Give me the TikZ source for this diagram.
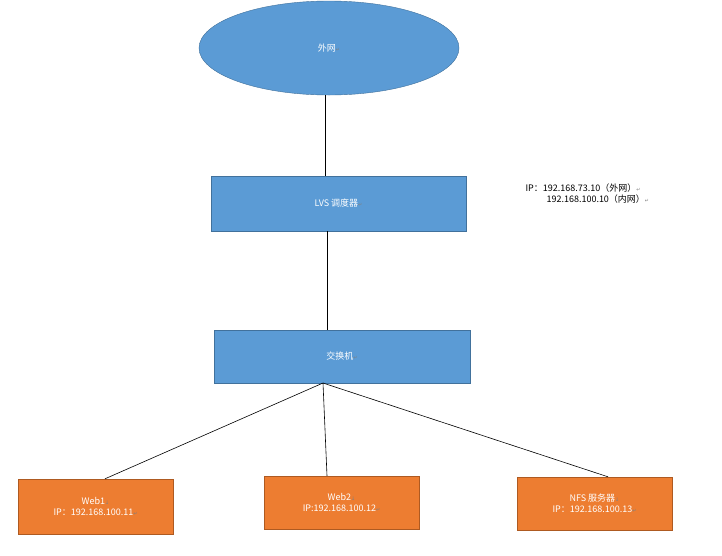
\documentclass[tikz,border=0pt]{standalone}
\usepackage{fontspec}
\usetikzlibrary{shapes.geometric}
\setmainfont{Noto Sans CJK SC}
\newfontfamily\symfont{DejaVu Sans}
\definecolor{netblue}{HTML}{5B9BD5}
\definecolor{netblueline}{HTML}{41719C}
\definecolor{hostorange}{HTML}{ED7D31}
\definecolor{hostorangeline}{HTML}{AE5A21}
\newcommand{\pmark}{{\symfont\color{gray}\tiny ↵}}
\newcommand{\lmark}{{\symfont\color{gray}\tiny ↓}}
\tikzset{
  bluebox/.style={draw=netblueline, fill=netblue, text=white, font=\small, minimum width=255pt, minimum height=55pt},
  hostbox/.style={draw=hostorangeline, fill=hostorange, text=white, font=\small, align=center, minimum width=155pt, minimum height=54pt},
  link/.style={draw=black, line width=0.6pt}
}
\begin{document}
\begin{tikzpicture}[x=1pt,y=-1pt]
  \useasboundingbox (0,0) rectangle (722,555);

  \node [draw=netblueline, fill=netblue, text=white, font=\small, ellipse, minimum width=260pt, minimum height=94pt] (wan) at (329,48) {外网\pmark};
  \node [bluebox] (lvs) at (338.5,203.5) {LVS 调度器\pmark};
  \node [bluebox, minimum width=256pt, minimum height=53pt] (switch) at (342,356.5) {交换机\pmark};

  \node [hostbox, minimum height=55pt] (web1) at (95.5,506.5) {Web1\lmark\\ IP：192.168.100.11\pmark};
  \node [hostbox, minimum height=53pt] (web2) at (341.5,502.5) {Web2\lmark\\ IP:192.168.100.12\pmark};
  \node [hostbox, minimum height=53pt] (nfs) at (594.5,503.5) {NFS 服务器\lmark\\ IP：192.168.100.13\pmark};

  \node [font=\small, align=left, anchor=north west] (lvsip) at (522,180) {IP：192.168.73.10（外网）\pmark\\ \hspace{21pt}192.168.100.10（内网）\pmark};

  \coordinate (hub) at (323,383);
  \draw [link] (325,95) -- (lvs.north -| 325,0);
  \draw [link] (lvs.south -| 327,0) -- (switch.north -| 327,0);
  \draw [link] (hub) -- (web1.north -| 105,0);
  \draw [link] (hub) -- (web2.north -| 327,0);
  \draw [link] (hub) -- (nfs.north -| 608,0);
\end{tikzpicture}
\end{document}
